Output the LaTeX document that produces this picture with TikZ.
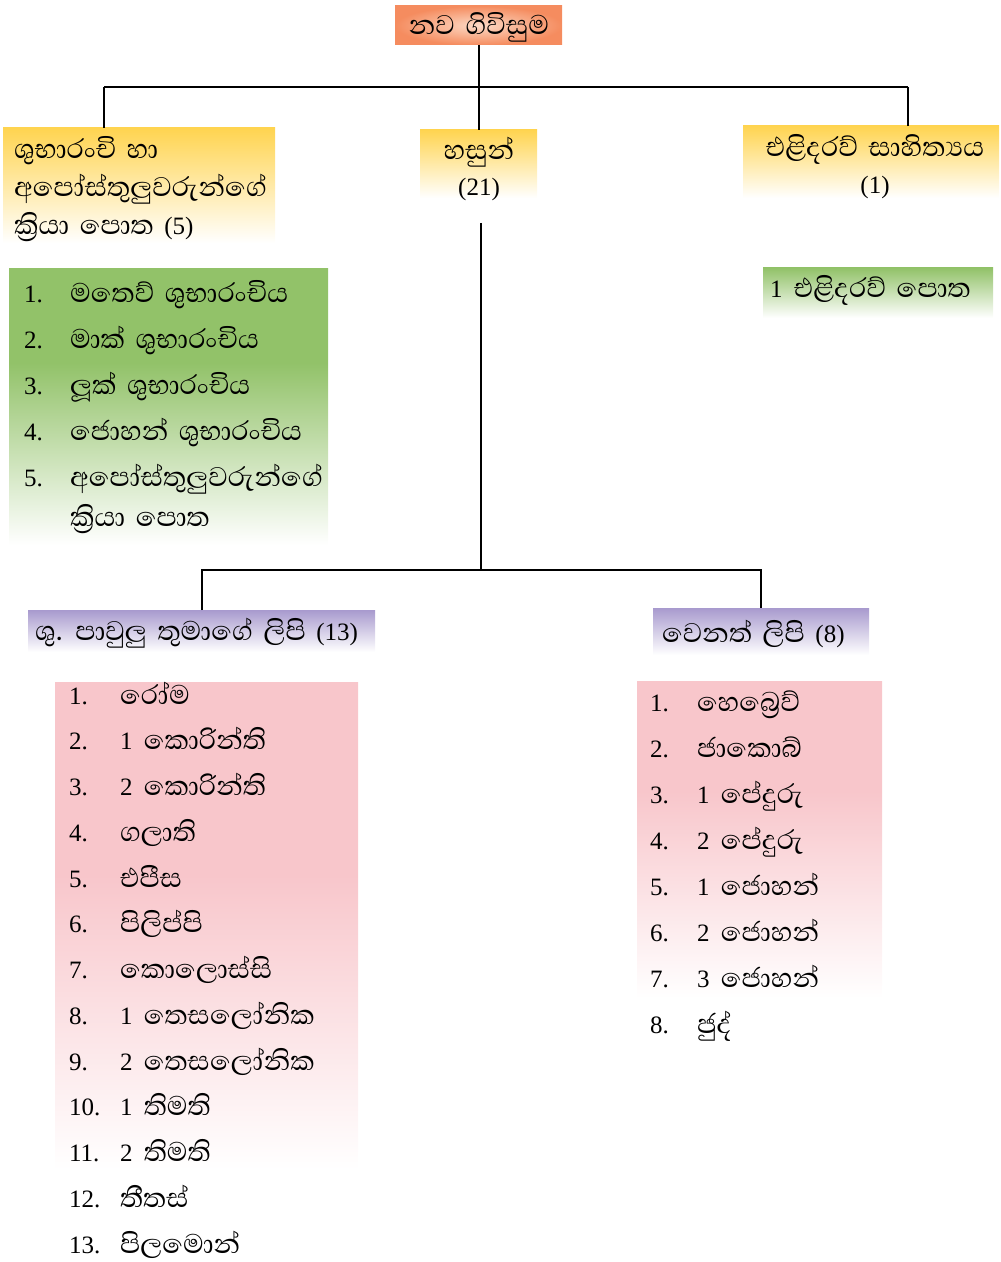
\documentclass[tikz,border=0pt]{standalone}
\usepackage{fontspec}
\setmainfont{Liberation Serif}
\newfontfamily\si[Script=Sinhala,Scale=1.38,WordSpace=1.6]{Abhaya Libre}
\usetikzlibrary{fit}
\definecolor{salmon}{RGB}{245,140,95}
\definecolor{salmonlt}{RGB}{252,218,198}
\definecolor{ylw}{RGB}{255,212,80}
\definecolor{grn}{RGB}{146,194,105}
\definecolor{prp}{RGB}{168,154,206}
\definecolor{pnk}{RGB}{248,198,203}
\pgfdeclareverticalshading{greenfade}{100bp}{color(0bp)=(white); color(25bp)=(white); color(58bp)=(grn); color(100bp)=(grn)}
\pgfdeclareverticalshading{pinkfade}{100bp}{color(0bp)=(white); color(27bp)=(white); color(56bp)=(pnk); color(100bp)=(pnk)}
\pgfdeclareverticalshading{pinkfadeb}{100bp}{color(0bp)=(white); color(26bp)=(white); color(58bp)=(pnk); color(100bp)=(pnk)}
\newcommand\numsi[2]{#1\hspace{0.45em}{\si #2}}
\begin{document}
\begin{tikzpicture}[x=0.75pt,y=-0.75pt,
  conn/.style={line width=1.5pt,black},
  box/.style={inner sep=0pt,outer sep=0pt},
  tx/.style={inner sep=0pt,outer sep=0pt,anchor=base west,font=\fontsize{18.75}{22}\selectfont},
  txc/.style={tx,anchor=base}]
\useasboundingbox (0,0) rectangle (1000,1262);

% boxes
\node[box, fit={(395,6)(562,45)}, inner color=salmonlt, outer color=salmon] (top) {};
\node[box, fit={(3,128)(275,243)}, top color=ylw, bottom color=white] (left) {};
\node[box, fit={(420,130)(537,198)}, top color=ylw, bottom color=white] (mid) {};
\node[box, fit={(743,126)(999,198)}, top color=ylw, bottom color=white] (right) {};
\node[box, fit={(9,269)(328,545)}, shade, shading=greenfade] (glist) {};
\node[box, fit={(763,268)(993,318)}, top color=grn, bottom color=white] (gbook) {};
\node[box, fit={(28,610)(375,652)}, top color=prp, bottom color=white] (paul) {};
\node[box, fit={(653,608)(869,655)}, top color=prp, bottom color=white] (other) {};
\node[box, fit={(55,682)(358,1190)}, shade, shading=pinkfade] (plist) {};
\node[box, fit={(637,681)(882,1005)}, shade, shading=pinkfadeb] (olist) {};

% texts
\node[txc] (toptx) at (479,35) {\si නව ගිවිසුම};
\node[tx] (l1) at (14,159) {\si ශුභාරංචි හා};
\node[tx] (l2) at (14,197) {\si අපෝස්තුලුවරුන්ගේ};
\node[tx] (l3) at (14,235) {{\si ක්‍රියා පොත }(5)};
\node[txc] (m1) at (479,160) {\si හසුන්};
\node[txc] (m2) at (479,196) {(21)};
\node[txc] (r1) at (875,157) {\si එළිදරව් සාහිත්‍යය};
\node[txc] (r2) at (875,194) {(1)};
\node[tx] (gb) at (770,298) {\numsi{1}{එළිදරව් පොත}};
\foreach \t [count=\i] in {{මතෙව් ශුභාරංචිය},{මාක් ශුභාරංචිය},{ලූක් ශුභාරංචිය},{ජොහන් ශුභාරංචිය},{අපෝස්තුලුවරුන්ගේ}}{
  \node[tx] (gn\i) at (24,{302+46*(\i-1)}) {\i.};
  \node[tx] (g\i) at (70,{302+46*(\i-1)}) {\si \t};
}
\node[tx] (g5b) at (70,526) {\si ක්‍රියා පොත};
\node[tx] (pt) at (35,640) {{\si ශු. පාවුලු තුමාගේ ලිපි }(13)};
\node[tx] (ot) at (662,642) {{\si වෙනත් ලිපි }(8)};
\foreach \t [count=\i] in {{{\si රෝම}},{\numsi{1}{කොරින්ති}},{\numsi{2}{කොරින්ති}},{{\si ගලාති}},{{\si එපීස}},{{\si පිලිප්පි}},{{\si කොලොස්සි}},{\numsi{1}{තෙසලෝනික}},{\numsi{2}{තෙසලෝනික}},{\numsi{1}{තිමති}},{\numsi{2}{තිමති}},{{\si තීතස්}},{{\si පිලමොන්}}}{
  \node[tx] (pn\i) at (69,{704+45.75*(\i-1)}) {\i.};
  \node[tx] (p\i) at (120,{704+45.75*(\i-1)}) {\t};
}
\foreach \t [count=\i] in {{{\si හෙබ්‍රෙව්}},{{\si ජාකොබ්}},{\numsi{1}{පේදුරු}},{\numsi{2}{පේදුරු}},{\numsi{1}{ජොහන්}},{\numsi{2}{ජොහන්}},{\numsi{3}{ජොහන්}},{{\si ජුද්}}}{
  \node[tx] (on\i) at (650,{711+46*(\i-1)}) {\i.};
  \node[tx] (o\i) at (697,{711+46*(\i-1)}) {\t};
}

% connectors
\coordinate (jl) at (104,87);
\coordinate (jr) at (908,87);
\draw[conn] (top.south) -- (top.south |- jl);
\draw[conn] (jl) -- (jr);
\draw[conn] (jl) -- (jl |- left.north);
\draw[conn] (jr) -- (jr |- right.north);
\draw[conn] (mid.north |- jl) -- (mid.north);
\coordinate (stem) at (481,223);
\coordinate (jb) at (481,570);
\draw[conn] (stem) -- (jb);
\draw[conn] (paul.north) -- (paul.north |- jb) -- (other.north |- jb) -- (other.north);
\end{tikzpicture}
\end{document}
